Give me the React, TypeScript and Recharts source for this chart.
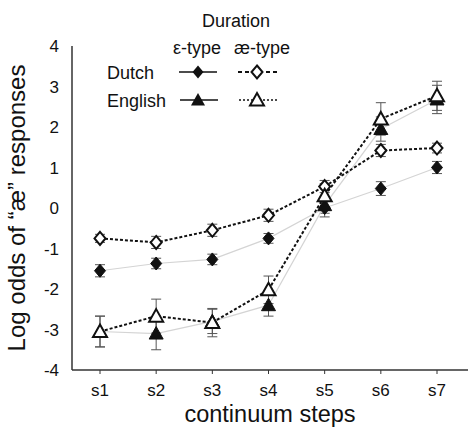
import React from "react";
import { LineChart, Line, XAxis, YAxis, ErrorBar, Legend } from "recharts";

const steps = ["s1", "s2", "s3", "s4", "s5", "s6", "s7"];
const yTicks = [-4, -3, -2, -1, 0, 1, 2, 3, 4];

// Dutch listeners
const dutchEps = [-1.55, -1.37, -1.27, -0.75, 0.0, 0.48, 1.0];
const dutchEpsErr = [0.15, 0.13, 0.13, 0.12, 0.22, 0.17, 0.15];
const dutchAe = [-0.75, -0.85, -0.55, -0.18, 0.53, 1.42, 1.48];
const dutchAeErr = [0.1, 0.15, 0.15, 0.15, 0.15, 0.15, 0.12];

// English listeners
const englishEps = [-3.05, -3.1, -2.8, -2.4, 0.07, 1.95, 2.68];
const englishEpsErr = [0.38, 0.4, 0.3, 0.27, 0.2, 0.3, 0.35];
const englishAe = [-3.05, -2.67, -2.83, -2.02, 0.3, 2.2, 2.77];
const englishAeErr = [0.38, 0.42, 0.35, 0.34, 0.3, 0.4, 0.36];

const data = steps.map((step, i) => ({
  step,
  dutchEps: dutchEps[i],
  dutchEpsErr: dutchEpsErr[i],
  dutchAe: dutchAe[i],
  dutchAeErr: dutchAeErr[i],
  englishEps: englishEps[i],
  englishEpsErr: englishEpsErr[i],
  englishAe: englishAe[i],
  englishAeErr: englishAeErr[i],
}));

const FONT = "'Liberation Sans', Arial, sans-serif";
const INK = "#111";

function diamondPath(cx: number, cy: number) {
  return `M${cx},${cy - 6.5}L${cx + 5.5},${cy}L${cx},${cy + 6.5}L${cx - 5.5},${cy}Z`;
}
function trianglePath(cx: number, cy: number) {
  return `M${cx},${cy - 7}L${cx + 7},${cy + 5.5}L${cx - 7},${cy + 5.5}Z`;
}

const makeDot = (shape: "diamond" | "triangle", open: boolean) => (p: any) => {
  if (p.cx == null || p.cy == null) return <g key={p.index} />;
  const d = shape === "diamond" ? diamondPath(p.cx, p.cy) : trianglePath(p.cx, p.cy);
  return (
    <path
      key={`${shape}-${open}-${p.index}`}
      d={d}
      fill={open ? "#fff" : INK}
      stroke={INK}
      strokeWidth={open ? 2 : 1}
    />
  );
};

function LegendTable() {
  const t = { fontFamily: FONT, fontSize: 18, fill: INK } as const;
  return (
    <svg width={468} height={120} style={{ display: "block" }}>
      <text x={236} y={21} textAnchor="middle" dominantBaseline="central" {...t}>Duration</text>
      <text x={197} y={48} textAnchor="middle" dominantBaseline="central" {...t}>ε-type</text>
      <text x={262} y={48} textAnchor="middle" dominantBaseline="central" {...t}>æ-type</text>
      <text x={107} y={73} dominantBaseline="central" {...t}>Dutch</text>
      <text x={107} y={101} dominantBaseline="central" {...t}>English</text>

      <line x1={179} x2={217} y1={72} y2={72} stroke={INK} strokeWidth={1.5} />
      <path d={diamondPath(198, 72)} fill={INK} />
      <line x1={238} x2={278} y1={72} y2={72} stroke={INK} strokeWidth={2} strokeDasharray="4 3" />
      <path d={diamondPath(257, 72)} fill="#fff" stroke={INK} strokeWidth={2} />

      <line x1={180} x2={218} y1={100} y2={100} stroke={INK} strokeWidth={1.5} />
      <path d={trianglePath(198, 100)} fill={INK} />
      <line x1={239} x2={277} y1={100} y2={100} stroke={INK} strokeWidth={1.5} strokeDasharray="2 2" />
      <path d={trianglePath(257, 100)} fill="#fff" stroke={INK} strokeWidth={2} />
    </svg>
  );
}

export default function App() {
  return (
    <div style={{ position: "absolute", left: 0, top: 0, width: 468, height: 427, background: "#fff" }}>
      <LineChart
        width={468}
        height={427}
        data={data}
        margin={{ top: 46, right: 0, bottom: 0, left: 0 }}
        style={{ fontFamily: FONT }}
      >
        <XAxis
          dataKey="step"
          height={57}
          padding={{ left: 28, right: 31 }}
          axisLine={{ stroke: "#333", strokeWidth: 1.5 }}
          tickLine={{ stroke: "#333" }}
          tickSize={4}
          tickMargin={10}
          tick={{ fontSize: 17, fill: INK, fontFamily: FONT }}
          label={{ value: "continuum steps", position: "insideBottom", offset: 5, fontSize: 23.5, fill: INK, fontFamily: FONT }}
        />
        <YAxis
          width={72}
          domain={[-4, 4]}
          ticks={yTicks}
          interval={0}
          axisLine={{ stroke: "#333", strokeWidth: 1.5 }}
          tickLine={false}
          tickMargin={7}
          tick={{ fontSize: 17, fill: INK, fontFamily: FONT }}
          label={{
            value: "Log odds of \u201c\u00e6\u201d responses",
            angle: -90,
            position: "insideLeft",
            offset: 16,
            style: { textAnchor: "middle" },
            fontSize: 24,
            fill: INK,
            fontFamily: FONT,
          }}
        />
        <Legend
          verticalAlign="middle"
          layout="horizontal"
          wrapperStyle={{ position: "absolute", left: 0, top: 0, width: 468, height: 120 }}
          content={() => <LegendTable />}
        />
        <Line
          dataKey="dutchEps"
          stroke="#d4d4d4"
          strokeWidth={1.2}
          dot={makeDot("diamond", false)}
          activeDot={false}
          isAnimationActive={false}
        >
          <ErrorBar dataKey="dutchEpsErr" width={5} stroke="#555" strokeWidth={1} direction="y" />
        </Line>
        <Line
          dataKey="englishEps"
          stroke="#d4d4d4"
          strokeWidth={1.2}
          dot={makeDot("triangle", false)}
          activeDot={false}
          isAnimationActive={false}
        >
          <ErrorBar dataKey="englishEpsErr" width={5} stroke="#555" strokeWidth={1} direction="y" />
        </Line>
        <Line
          dataKey="dutchAe"
          stroke={INK}
          strokeWidth={2}
          strokeDasharray="3 2"
          dot={makeDot("diamond", true)}
          activeDot={false}
          isAnimationActive={false}
        >
          <ErrorBar dataKey="dutchAeErr" width={5} stroke="#555" strokeWidth={1} direction="y" />
        </Line>
        <Line
          dataKey="englishAe"
          stroke={INK}
          strokeWidth={2}
          strokeDasharray="3 2"
          dot={makeDot("triangle", true)}
          activeDot={false}
          isAnimationActive={false}
        >
          <ErrorBar dataKey="englishAeErr" width={5} stroke="#555" strokeWidth={1} direction="y" />
        </Line>
      </LineChart>
    </div>
  );
}
